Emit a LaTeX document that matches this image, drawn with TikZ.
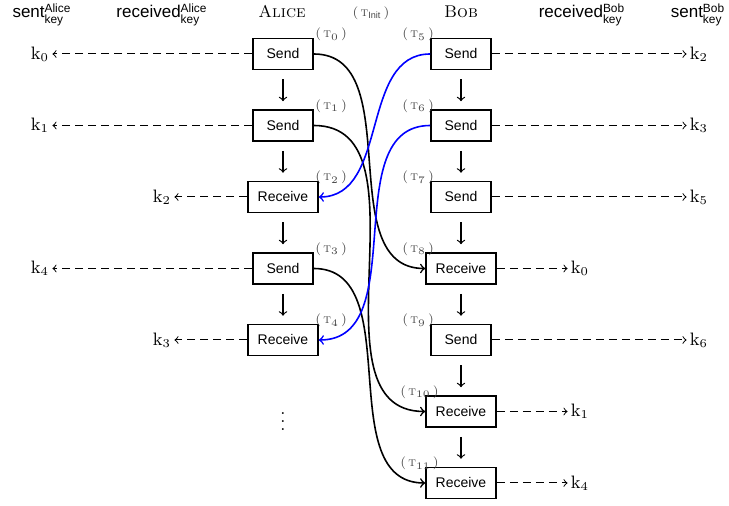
\documentclass[tikz,border=0pt]{standalone}
\usepackage{amsmath}
\usepackage{fontspec}
\setsansfont{Liberation Sans}
\begin{document}
\begin{tikzpicture}[x=0.5pt,y=-0.5pt,>=to,
  box/.style={draw, thick, font=\sffamily\fontsize{7}{8}\selectfont, minimum width=30pt, minimum height=15.5pt, inner xsep=4.85pt, inner ysep=0pt},
  keyl/.style={font=\fontsize{9}{10}\selectfont, inner sep=1.5pt},
  flow/.style={->, semithick, shorten <=4.5pt, shorten >=4pt},
  kline/.style={->, line width=0.5pt, dash pattern=on 4pt off 2.5pt},
  msg/.style={->, thick},
  tlab/.style={text=black!72, font=\fontsize{6.5}{7.5}\selectfont, inner sep=0pt},
  head/.style={font=\fontsize{8.5}{10}\selectfont, anchor=base}]
\useasboundingbox (0,0) rectangle (729,506);

% headers
\node[head] (hsa) at (42,18) {\textsf{sent}$^{\textsf{Alice}}_{\textsf{key}}$};
\node[head] (hra) at (162,18) {\textsf{received}$^{\textsf{Alice}}_{\textsf{key}}$};
\node[head] (hal) at (282,18) {\textsc{Alice}};
\node[tlab] (tinit) at (371,13) {(\,\textsc{t}$_{\textsf{Init}}$\,)};
\node[head] (hbo) at (461,18) {\textsc{Bob}};
\node[head] (hrb) at (582,18) {\textsf{received}$^{\textsf{Bob}}_{\textsf{key}}$};
\node[head] (hsb) at (698,18) {\textsf{sent}$^{\textsf{Bob}}_{\textsf{key}}$};

% Alice boxes
\node[box] (a0) at (283,54) {Send};
\node[box] (a1) at (283,125.5) {Send};
\node[box] (a2) at (283,197) {Receive};
\node[box] (a3) at (283,268.5) {Send};
\node[box] (a4) at (283,340) {Receive};
\node[font=\fontsize{9}{10}\selectfont] (adots) at (283,416) {$\vdots$};

% Bob boxes
\node[box] (b5) at (461,54) {Send};
\node[box] (b6) at (461,125.5) {Send};
\node[box] (b7) at (461,197) {Send};
\node[box] (b8) at (461,268.5) {Receive};
\node[box] (b9) at (461,340) {Send};
\node[box] (b10) at (461,411.5) {Receive};
\node[box] (b11) at (461,483) {Receive};

% tau labels
\node[tlab, anchor=base west] (t0) at (315,38) {(\,\textsc{t}$_0$\,)};
\node[tlab, anchor=base west] (t1) at (315,109.5) {(\,\textsc{t}$_1$\,)};
\node[tlab, anchor=base west] (t2) at (315,181) {(\,\textsc{t}$_2$\,)};
\node[tlab, anchor=base west] (t3) at (315,252.5) {(\,\textsc{t}$_3$\,)};
\node[tlab, anchor=base west] (t4) at (315,324) {(\,\textsc{t}$_4$\,)};
\node[tlab, anchor=base west] (t5) at (402,38) {(\,\textsc{t}$_5$\,)};
\node[tlab, anchor=base west] (t6) at (402,109.5) {(\,\textsc{t}$_6$\,)};
\node[tlab, anchor=base west] (t7) at (402,181) {(\,\textsc{t}$_7$\,)};
\node[tlab, anchor=base west] (t8) at (402,252.5) {(\,\textsc{t}$_8$\,)};
\node[tlab, anchor=base west] (t9) at (402,324) {(\,\textsc{t}$_9$\,)};
\node[tlab, anchor=base west] (t10) at (400,395.5) {(\,\textsc{t}$_{10}$\,)};
\node[tlab, anchor=base west] (t11) at (400,467) {(\,\textsc{t}$_{11}$\,)};

% keys
\node[keyl] (ka0) at (40,54) {$\mathrm{k}_0$};
\node[keyl] (ka1) at (40,125.5) {$\mathrm{k}_1$};
\node[keyl] (ka2) at (162,197) {$\mathrm{k}_2$};
\node[keyl] (ka3) at (40,268.5) {$\mathrm{k}_4$};
\node[keyl] (ka4) at (162,340) {$\mathrm{k}_3$};
\node[keyl] (kb5) at (699,54) {$\mathrm{k}_2$};
\node[keyl] (kb6) at (699,125.5) {$\mathrm{k}_3$};
\node[keyl] (kb7) at (699,197) {$\mathrm{k}_5$};
\node[keyl] (kb8) at (580,268.5) {$\mathrm{k}_0$};
\node[keyl] (kb9) at (699,340) {$\mathrm{k}_6$};
\node[keyl] (kb10) at (580,411.5) {$\mathrm{k}_1$};
\node[keyl] (kb11) at (580,483) {$\mathrm{k}_4$};

% flow arrows
\draw[flow] (a0) -- (a1);
\draw[flow] (a1) -- (a2);
\draw[flow] (a2) -- (a3);
\draw[flow] (a3) -- (a4);
\draw[flow] (b5) -- (b6);
\draw[flow] (b6) -- (b7);
\draw[flow] (b7) -- (b8);
\draw[flow] (b8) -- (b9);
\draw[flow] (b9) -- (b10);
\draw[flow] (b10) -- (b11);

% key lines
\draw[kline] (a0) -- (ka0);
\draw[kline] (a1) -- (ka1);
\draw[kline] (a2) -- (ka2);
\draw[kline] (a3) -- (ka3);
\draw[kline] (a4) -- (ka4);
\draw[kline] (b5) -- (kb5);
\draw[kline] (b6) -- (kb6);
\draw[kline] (b7) -- (kb7);
\draw[kline] (b8) -- (kb8);
\draw[kline] (b9) -- (kb9);
\draw[kline] (b10) -- (kb10);
\draw[kline] (b11) -- (kb11);

% messages
\draw[msg] (a0.east) to[out=0,in=180] (b8.west);
\draw[msg] (a1.east) to[out=0,in=180] (b10.west);
\draw[msg] (a3.east) to[out=0,in=180] (b11.west);
\draw[msg, blue] (b5.west) to[out=180,in=0] (a2.east);
\draw[msg, blue] (b6.west) to[out=180,in=0] (a4.east);
\end{tikzpicture}
\end{document}
